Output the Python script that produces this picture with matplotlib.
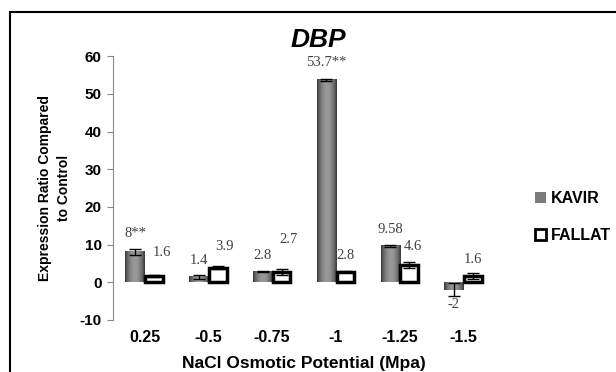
import matplotlib.pyplot as plt
import numpy as np
from matplotlib.patches import Rectangle

categories = ['0.25', '-0.5', '-0.75', '-1', '-1.25', '-1.5']
kavir = [8, 1.4, 2.8, 53.7, 9.58, -2]
fallat = [1.6, 3.9, 2.7, 2.8, 4.6, 1.6]
kavir_err = [0.8, 0.5, 0.1, 0.2, 0.2, 1.7]
fallat_err = [0.3, 0.3, 0.8, 0.2, 0.8, 0.8]
kavir_labels = ['8**', '1.4', '2.8', '53.7**', '9.58', '-2']
fallat_labels = ['1.6', '3.9', '2.7', '2.8', '4.6', '1.6']

plt.rcParams['font.family'] = 'Liberation Sans'
plt.rcParams['axes.unicode_minus'] = False

fig = plt.figure(figsize=(6.16, 3.72), dpi=100)
ax = fig.add_axes([0.183, 0.140, 0.621, 0.709])

# outer frame of the chart area (cut at right and bottom)
fig.patches.append(Rectangle((10 / 616, -0.1), 1.2, 1 - 12 / 372 + 0.1,
                             transform=fig.transFigure, fill=False,
                             edgecolor='black', linewidth=1.5))

x = np.arange(len(categories))
w = 0.3

bars_k = ax.bar(x - w / 2, kavir, w, color='none', edgecolor='none', zorder=2)
# cylinder-like shading for KAVIR bars
grad = np.abs(np.linspace(-1, 1, 64))
grad = 0.6 - 0.38 * grad ** 2
for b in bars_k:
    x0, y0 = b.get_x(), b.get_y()
    ax.imshow(np.tile(grad, (2, 1)), cmap='gray', vmin=0, vmax=1, aspect='auto',
              extent=(x0, x0 + b.get_width(), y0, y0 + b.get_height()),
              zorder=2, interpolation='bilinear')
ax.errorbar(x - w / 2, kavir, yerr=kavir_err, fmt='none', ecolor='black',
            elinewidth=1, capsize=4, capthick=1, zorder=4)

ax.bar(x + w / 2, fallat, w * 0.92, color='white', edgecolor='black',
       linewidth=2.5, zorder=3)
ax.errorbar(x + w / 2, fallat, yerr=fallat_err, fmt='none', ecolor='black',
            elinewidth=1, capsize=4, capthick=1, zorder=4)

# data labels
k_dy = [5, 4.4, 4.2, 4.6, 4.4, -4]
f_dy = [6.4, 5.6, 8.7, 4.2, 4.9, 4.4]
f_dx = [0.12, 0.1, 0.1, 0.0, 0.06, 0.0]
for i in range(len(categories)):
    ax.text(x[i] - w / 2, kavir[i] + k_dy[i], kavir_labels[i], ha='center',
            va='center', fontsize=10.5, family='Liberation Serif', color='#404040')
    ax.text(x[i] + w / 2 + f_dx[i], fallat[i] + f_dy[i], fallat_labels[i],
            ha='center', va='center', fontsize=10.5, family='Liberation Serif',
            color='#404040')

ax.set_xlim(-0.5, len(categories) - 0.5)
ax.set_ylim(-10, 60)
ax.set_yticks(range(-10, 61, 10))
ax.set_xticks(x)
ax.set_xticklabels(categories, fontsize=11.5, fontweight='bold')
ax.tick_params(axis='x', length=0, pad=7)
ax.tick_params(axis='y', length=4, color='#888888', labelsize=11, pad=4)
for lab in ax.get_yticklabels():
    lab.set_fontweight('bold')
for s in ['top', 'right', 'bottom']:
    ax.spines[s].set_visible(False)
ax.spines['left'].set_color('#888888')
ax.patch.set_visible(False)

ax.set_ylabel('Expression Ratio Compared\nto Control', fontsize=10,
              fontweight='bold', labelpad=6, linespacing=1.45)
ax.set_xlabel('NaCl Osmotic Potential (Mpa)', fontsize=12.5, fontweight='bold',
              labelpad=8)
fig.text(318 / 616, 1 - 40 / 372, 'DBP', ha='center', va='center', fontsize=19,
         fontweight='bold', fontstyle='italic')

# legend
kav_handle = Rectangle((0, 0), 1, 1, facecolor='#7a7a7a', edgecolor='none')
fal_handle = Rectangle((0, 0), 1, 1, facecolor='white', edgecolor='black',
                       linewidth=2)
fig.legend([kav_handle, fal_handle], ['KAVIR', 'FALLAT'], loc='center left',
           bbox_to_anchor=(521 / 616, 1 - 217 / 372), frameon=False,
           prop={'weight': 'bold', 'size': 11.5}, handlelength=0.65,
           handleheight=0.65, handletextpad=0.35, labelspacing=1.35)

fig.savefig('out.png', dpi=100)
